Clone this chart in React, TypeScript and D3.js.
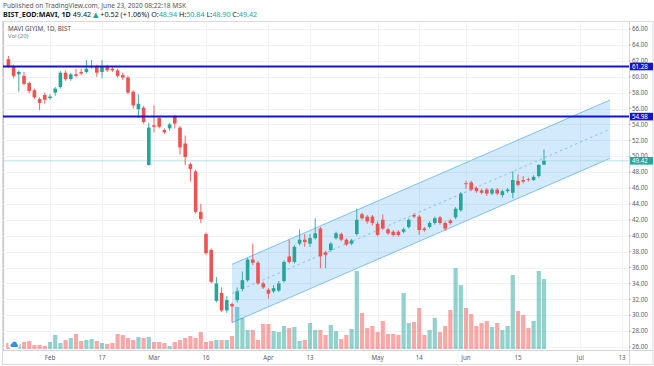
import React from "react";
import * as d3 from "d3";

// ---- data (index = trading day, 0 = Jan 22 2020 ... 103 = Jun 22 2020) ----
const opens = [62.2,61.3,60.3,60.1,59.2,58.3,57.2,57.7,57.3,58.0, 58.7,60.5,59.7,60.3,60.6,60.6,61.2,61.3,60.6,61.3, 61.0,60.8,60.2,59.9,58.1,55.9,56.1,48.9,53.9,54.8, 53.3,53.5,55.0,53.6,51.6,49.0,48.1,43.0,40.2,38.2, 31.8,32.8,30.6,31.4,31.9,33.3,34.4,37.0,36.6,34.0, 33.2,33.0,33.1,34.3,37.4,36.7,39.0,39.5,39.0,39.7, 40.9,37.9,38.2,39.7,40.2,39.5,39.0,40.2,42.7,42.4, 42.4,41.5,42.0,40.8,40.5,40.5,40.5,41.1,42.6,42.4, 40.9,41.1,41.6,42.3,41.6,41.9,42.3,43.2,46.6,46.7, 46.0,45.7,45.8,45.3,45.8,45.1,45.6,45.4,46.9,47.0, 47.1,47.0,47.5,48.94];
const highs = [62.6,61.5,60.8,60.6,59.4,58.5,57.4,58.0,57.8,58.7, 60.7,60.8,60.5,61.0,61.0,62.1,62.1,61.5,62.1,61.5, 61.2,61.0,60.5,60.1,58.3,57.8,56.3,54.2,56.4,55.0, 53.5,54.2,55.2,53.8,52.6,49.2,48.3,44.0,40.4,38.4, 34.8,33.5,32.4,31.6,33.5,35.5,37.2,39.0,36.8,34.2, 33.4,33.8,34.3,36.9,39.5,38.8,40.8,40.2,40.2,42.2, 41.1,38.1,39.2,40.5,40.4,39.7,39.6,43.4,42.9,42.6, 42.6,41.8,42.7,41.0,40.7,40.7,41.0,42.2,42.8,42.6, 41.1,41.8,42.4,42.5,41.8,42.1,43.6,45.5,46.9,46.9, 46.2,45.9,46.0,46.0,46.0,45.8,46.0,48.1,47.7,47.5, 47.3,47.6,49.0,50.84];
const lows = [61.1,59.8,58.1,58.9,57.9,57.2,55.8,56.6,57.1,57.6, 58.5,59.5,59.5,59.9,60.2,60.4,61.0,60.0,59.8,60.6, 60.6,59.9,59.6,57.8,56.0,54.8,54.1,48.8,53.0,53.5, 52.8,53.2,53.5,50.2,48.9,46.8,42.8,41.6,37.6,34.0, 31.6,30.4,30.3,29.1,31.6,33.0,34.2,36.3,33.8,33.3, 32.1,32.8,32.9,34.1,36.5,36.5,38.8,38.6,38.6,39.5, 35.9,35.9,38.0,39.5,39.3,38.7,38.8,40.0,42.0,41.5, 41.3,39.9,40.7,40.1,39.9,39.9,40.3,40.9,42.2,40.1, 40.5,40.9,41.4,41.4,40.6,41.4,42.1,43.0,45.9,45.6, 45.4,45.2,45.0,45.1,45.1,44.8,45.4,44.7,46.2,46.6, 46.8,46.9,47.3,48.90];
const closes = [61.3,60.1,60.6,59.1,58.2,57.4,56.7,57.1,57.5,58.5, 60.5,59.7,60.3,60.1,60.4,61.0,61.3,60.5,61.3,60.8, 60.8,60.1,59.9,58.0,56.4,56.6,54.3,53.6,53.7,53.7, 53.0,54.0,54.1,51.1,49.9,48.4,43.0,42.1,37.8,34.2, 34.0,30.6,31.9,31.1,33.0,34.4,37.0,36.6,34.0,33.5, 32.7,33.4,34.0,36.7,36.7,38.6,39.5,39.2,39.7,40.3, 37.4,37.6,39.0,40.3,39.5,38.9,39.4,42.0,42.2,41.8, 41.6,40.1,40.9,40.3,40.1,40.1,40.8,42.0,42.4,40.7, 40.7,41.6,42.2,41.6,40.9,41.6,43.4,45.3,46.5,45.8, 45.6,45.4,45.3,45.8,45.3,45.6,45.8,47.0,46.4,46.8, 47.0,47.4,48.9,49.42];
// volume (x 50k lots)
const volumes = [6,4,5,7,8,4,4,3,7,14, 6,9,11,15,8,9,10,8,6,5, 6,15,14,11,9,12,11,12,7,7, 6,3,7,9,11,13,11,17,7,8, 9,9,9,13,42,31,19,19,9,25, 25,18,17,23,21,22,8,9,26,19, 19,14,24,18,10,14,20,78,36,21, 23,17,28,15,15,14,56,26,27,41, 14,19,31,17,23,39,81,64,41,35, 23,26,28,22,26,19,23,74,38,34, 21,28,78,70];

const dateTickLabels = ["Feb", "17", "Mar", "16", "Apr", "13", "May", "14", "Jun", "15", "Jul", "13"];
const dateTickIndex = [8, 18, 28, 38, 50, 58, 71, 79, 88, 98, 110, 118];
const priceTicks = d3.range(26, 66.01, 2);
const levelLines = [61.28, 54.98];
const lastPrice = 49.42;
// regression channel: [start bar, end bar], mid price at those bars, half width
const channelIdx = [43, 115.7];
const channelMid = [32.73, 53.4];
const channelHalf = 3.67;

const UP = "#26a69a";
const DOWN = "#ef5350";
const LEVEL = "#1414cc";
const FONT = "'Noto Sans', 'DejaVu Sans', sans-serif";

export default function App() {
  const x = d3.scaleLinear().domain([0, 118]).range([8.4, 622]);
  const y = d3.scaleLinear().domain([26, 66]).range([347, 29]);
  const vmax = d3.max(volumes) as number;
  const vy = d3.scaleLinear().domain([0, vmax]).range([349, 268]);

  const paneL = 3, paneR = 629, paneT = 22, paneB = 350;
  const bodyW = 3.6, volW = 4.2;
  const axFont = 6.2;

  const cx0 = x(channelIdx[0]), cx1 = x(channelIdx[1]);
  const up0 = y(channelMid[0] + channelHalf), up1 = y(channelMid[1] + channelHalf);
  const lo0 = y(channelMid[0] - channelHalf), lo1 = y(channelMid[1] - channelHalf);
  const line = d3.line<[number, number]>();
  const channelPath = line([[cx0, up0], [cx1, up1], [cx1, lo1], [cx0, lo0]]) + "Z";

  return (
    <svg width={654} height={366} style={{ position: "absolute", left: 0, top: 0, display: "block", background: "#fff" }} fontFamily={FONT}>
      <defs>
        <clipPath id="pane"><rect x={paneL} y={paneT} width={paneR - paneL} height={paneB - paneT} /></clipPath>
      </defs>
      {/* header */}
      <text x={3} y={7.8} fontSize={6.6} fill="#555">Published on TradingView.com, June 23, 2020 08:22:18 MSK</text>
      <text x={3} y={17.4} fontSize={7.2} fill="#131722">
        <tspan fontWeight="bold">BIST_EOD:MAVI, 1D</tspan>
        <tspan> 49.42 </tspan>
        <tspan fill={UP}>▲</tspan>
        <tspan> +0.52 (+1.06%) O:</tspan><tspan fill={UP}>48.94</tspan>
        <tspan> H:</tspan><tspan fill={UP}>50.84</tspan>
        <tspan> L:</tspan><tspan fill={UP}>48.90</tspan>
        <tspan> C:</tspan><tspan fill={UP}>49.42</tspan>
      </text>

      {/* frame */}
      <rect x={2.5} y={21.5} width={650.5} height={343} fill="none" stroke="#d9dbe0" strokeWidth={1} />
      <line x1={3.5} x2={3.5} y1={22} y2={350} stroke="#c8c8c8" strokeWidth={1.2} />

      {/* grid */}
      <g stroke="#f0f2f6" strokeWidth={1}>
        {priceTicks.map((p) => (
          <line key={"h" + p} x1={paneL} x2={paneR} y1={Math.round(y(p)) + 0.5} y2={Math.round(y(p)) + 0.5} />
        ))}
        {dateTickIndex.map((d, k) => (
          <line key={"v" + k} x1={Math.round(x(d)) + 0.5} x2={Math.round(x(d)) + 0.5} y1={paneT} y2={paneB} />
        ))}
      </g>

      <g clipPath="url(#pane)">
        {/* volume */}
        {volumes.map((v, i) => (
          <rect key={"vol" + i} x={x(i) - volW / 2} y={vy(v)} width={volW} height={vy(0) - vy(v)}
            fill={closes[i] >= opens[i] ? UP : DOWN} fillOpacity={0.5} />
        ))}

        {/* regression channel */}
        <path d={channelPath} fill="rgba(33,150,243,0.2)" stroke="none" />
        <line x1={cx0} y1={up0} x2={cx1} y2={up1} stroke="rgba(33,150,243,0.55)" strokeWidth={1} />
        <line x1={cx0} y1={lo0} x2={cx1} y2={lo1} stroke="rgba(33,150,243,0.55)" strokeWidth={1} />
        <line x1={cx0} y1={y(channelMid[0])} x2={cx1} y2={y(channelMid[1])} stroke="rgba(33,150,243,0.6)" strokeWidth={0.8} strokeDasharray="2.5 3" />

        {/* last price line */}
        <line x1={paneL} x2={paneR} y1={y(lastPrice)} y2={y(lastPrice)} stroke="#a6d9e0" strokeWidth={0.8} />

        {/* candles */}
        {opens.map((o, i) => {
          const c = closes[i];
          const col = c >= o ? UP : DOWN;
          const top = y(Math.max(o, c));
          const bot = y(Math.min(o, c));
          return (
            <g key={"c" + i}>
              <line x1={x(i)} x2={x(i)} y1={y(highs[i])} y2={y(lows[i])} stroke={col} strokeWidth={0.9} />
              <rect x={x(i) - bodyW / 2} y={top} width={bodyW} height={Math.max(bot - top, 0.9)} fill={col} />
            </g>
          );
        })}

        {/* horizontal levels */}
        {levelLines.map((p) => (
          <line key={"lvl" + p} x1={paneL} x2={paneR} y1={y(p)} y2={y(p)} stroke={LEVEL} strokeWidth={2} />
        ))}
      </g>

      {/* axes */}
      <line x1={paneR + 0.5} x2={paneR + 0.5} y1={paneT} y2={paneB + 14} stroke="#d4d6db" strokeWidth={1} />
      <line x1={paneL} x2={653} y1={paneB + 0.5} y2={paneB + 0.5} stroke="#d4d6db" strokeWidth={1} />
      {priceTicks.map((p) => (
        <g key={"pt" + p}>
          <line x1={paneR} x2={paneR + 2} y1={y(p)} y2={y(p)} stroke="#9598a1" strokeWidth={0.6} />
          <text x={632} y={y(p) + 2.2} fontSize={axFont} fill="#5d606b">{p.toFixed(2)}</text>
        </g>
      ))}
      {dateTickIndex.map((d, k) => (
        <text key={"dt" + k} x={x(d)} y={359.6} fontSize={axFont} fill="#5d606b" textAnchor="middle">{dateTickLabels[k]}</text>
      ))}

      {/* price labels */}
      {levelLines.map((p) => (
        <g key={"lab" + p}>
          <rect x={630} y={y(p) - 3.8} width={23} height={7.6} fill={LEVEL} />
          <text x={632} y={y(p) + 2.2} fontSize={axFont} fill="#fff">{p.toFixed(2)}</text>
        </g>
      ))}
      <rect x={630} y={y(lastPrice) - 3.8} width={23} height={7.6} fill={UP} />
      <text x={632} y={y(lastPrice) + 2.2} fontSize={axFont} fill="#fff">{lastPrice.toFixed(2)}</text>

      {/* pane legend */}
      <text x={8} y={30.6} fontSize={6.3} fill="#4a4e59">MAVI GIYIM, 1D, BIST</text>
      <text x={8} y={38.4} fontSize={5.9} fill="#7a7e89">Vol (20)</text>

      {/* logo */}
      <circle cx={14} cy={344.5} r={5.5} fill="#fff" stroke="#e3e5ea" strokeWidth={0.6} />
      <g fill="#3a8fe0">
        <circle cx={12.4} cy={345.2} r={1.9} />
        <circle cx={14.6} cy={343.8} r={2.3} />
        <circle cx={16.3} cy={345.4} r={1.6} />
        <rect x={11} y={345.2} width={6.8} height={1.9} rx={0.9} />
      </g>
    </svg>
  );
}
